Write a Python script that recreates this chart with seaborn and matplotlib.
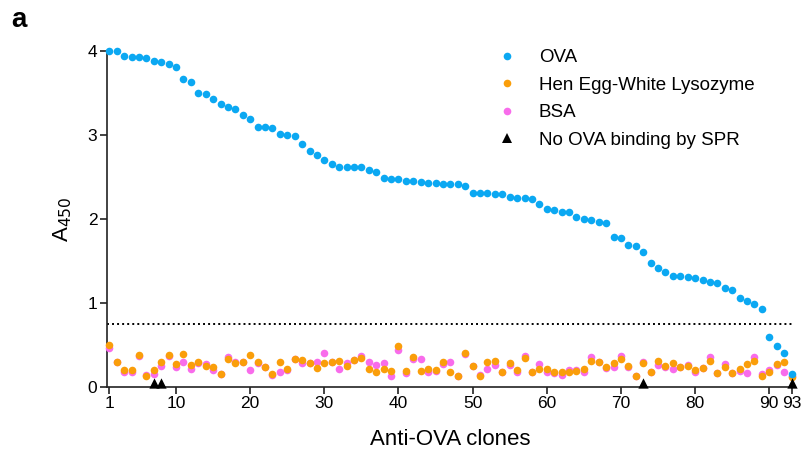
import numpy as np
import pandas as pd
import matplotlib
matplotlib.use("Agg")
import matplotlib.pyplot as plt
from matplotlib.lines import Line2D
import seaborn as sns

# ELISA absorbance (A450) for each anti-OVA clone against three antigens
clones = list(range(1, 94))

ova = [4.00, 4.00, 3.94, 3.93, 3.92, 3.91, 3.88, 3.86, 3.84, 3.80,
       3.66, 3.63, 3.50, 3.48, 3.42, 3.37, 3.33, 3.31, 3.23, 3.19,
       3.09, 3.09, 3.08, 3.01, 3.00, 2.98, 2.89, 2.81, 2.76, 2.70,
       2.65, 2.62, 2.62, 2.62, 2.61, 2.58, 2.55, 2.49, 2.47, 2.47,
       2.45, 2.45, 2.44, 2.43, 2.43, 2.41, 2.41, 2.41, 2.39, 2.31,
       2.31, 2.31, 2.29, 2.29, 2.26, 2.25, 2.25, 2.23, 2.18, 2.12,
       2.10, 2.08, 2.08, 2.02, 2.00, 1.99, 1.96, 1.95, 1.78, 1.77,
       1.69, 1.68, 1.60, 1.47, 1.41, 1.37, 1.32, 1.32, 1.31, 1.30,
       1.27, 1.25, 1.23, 1.18, 1.15, 1.06, 1.02, 0.98, 0.92, 0.59,
       0.48, 0.40, 0.15]

hewl = [0.50, 0.30, 0.20, 0.20, 0.38, 0.13, 0.20, 0.29, 0.38, 0.27,
        0.39, 0.26, 0.29, 0.25, 0.23, 0.15, 0.33, 0.28, 0.30, 0.38,
        0.29, 0.24, 0.15, 0.29, 0.21, 0.33, 0.32, 0.28, 0.22, 0.28,
        0.29, 0.31, 0.25, 0.32, 0.34, 0.21, 0.18, 0.21, 0.19, 0.48,
        0.19, 0.35, 0.19, 0.21, 0.20, 0.29, 0.17, 0.13, 0.40, 0.25,
        0.13, 0.29, 0.31, 0.17, 0.28, 0.20, 0.34, 0.18, 0.21, 0.21,
        0.17, 0.17, 0.17, 0.19, 0.21, 0.31, 0.30, 0.24, 0.28, 0.33,
        0.25, 0.13, 0.28, 0.17, 0.31, 0.25, 0.28, 0.23, 0.25, 0.20,
        0.22, 0.31, 0.16, 0.24, 0.16, 0.21, 0.27, 0.31, 0.13, 0.17,
        0.27, 0.29, 0.11]

bsa = [0.46, 0.29, 0.17, 0.18, 0.36, 0.14, 0.15, 0.25, 0.36, 0.24,
       0.29, 0.21, 0.28, 0.27, 0.20, 0.15, 0.35, 0.29, 0.29, 0.20,
       0.28, 0.24, 0.14, 0.17, 0.20, 0.33, 0.28, 0.28, 0.29, 0.40,
       0.29, 0.21, 0.28, 0.32, 0.36, 0.29, 0.26, 0.28, 0.13, 0.44,
       0.16, 0.33, 0.33, 0.18, 0.19, 0.27, 0.29, 0.13, 0.39, 0.25,
       0.14, 0.21, 0.26, 0.17, 0.26, 0.18, 0.36, 0.18, 0.27, 0.17,
       0.16, 0.14, 0.20, 0.20, 0.17, 0.35, 0.30, 0.22, 0.23, 0.37,
       0.23, 0.13, 0.29, 0.17, 0.26, 0.24, 0.21, 0.24, 0.26, 0.18,
       0.22, 0.35, 0.16, 0.27, 0.16, 0.19, 0.16, 0.35, 0.15, 0.20,
       0.26, 0.17, 0.13]

# Clones without OVA binding in surface plasmon resonance
no_spr = [7, 8, 73, 93]
no_spr_y = [0.045] * len(no_spr)

cutoff = 0.75
xticks = [1, 10, 20, 30, 40, 50, 60, 70, 80, 90, 93]

c_ova = "#0BA8F2"
c_hewl = "#FA9E0A"
c_bsa = "#F86CEB"

sns.set_theme(style="ticks")
plt.rcParams["font.family"] = ["Liberation Sans", "DejaVu Sans"]
plt.rcParams.update({
    "text.color": "black",
    "axes.labelcolor": "black",
    "xtick.color": "black",
    "ytick.color": "black",
})

fig = plt.figure(figsize=(8.05, 4.55), dpi=100)
ax = fig.add_axes([107 / 805, 1 - 386.7 / 455, 686 / 805, 336 / 455])

df = pd.DataFrame({"clone": clones, "OVA": ova, "HEWL": hewl, "BSA": bsa})

dot = dict(s=30, linewidth=0, clip_on=False, legend=False, ax=ax)
sns.scatterplot(data=df, x="clone", y="BSA", color=c_bsa, zorder=3, **dot)
sns.scatterplot(data=df, x="clone", y="HEWL", color=c_hewl, zorder=4, **dot)
sns.scatterplot(data=df, x="clone", y="OVA", color=c_ova, zorder=5, **dot)
sns.scatterplot(x=no_spr, y=no_spr_y, color="black", marker="^", s=55,
                linewidth=0, zorder=6, clip_on=False, legend=False, ax=ax)

ax.axhline(cutoff, color="black", linestyle=(0, (1, 1.6)), linewidth=1.4, zorder=2)

ax.set_xlim(0.69, 93.2)
ax.set_ylim(0, 4)
ax.set_xticks(xticks)
ax.set_xticklabels([str(t) for t in xticks])
ax.set_yticks([0, 1, 2, 3, 4])
ax.tick_params(axis="both", direction="out", length=5, width=1.2,
               color="#222222", labelsize=12.5, pad=2)
for side in ("left", "bottom"):
    ax.spines[side].set_linewidth(1.2)
    ax.spines[side].set_color("#222222")
sns.despine(ax=ax)

ax.set_xlabel("Anti-OVA clones", fontsize=16, labelpad=13)
ax.set_ylabel("A$_{450}$", fontsize=16, labelpad=10)

handles = [
    Line2D([], [], linestyle="none", marker="o", markersize=5.5,
           markerfacecolor=c_ova, markeredgewidth=0),
    Line2D([], [], linestyle="none", marker="o", markersize=5.5,
           markerfacecolor=c_hewl, markeredgewidth=0),
    Line2D([], [], linestyle="none", marker="o", markersize=5.5,
           markerfacecolor=c_bsa, markeredgewidth=0),
    Line2D([], [], linestyle="none", marker="^", markersize=6.5,
           markerfacecolor="black", markeredgewidth=0),
]
labels = ["OVA", "Hen Egg-White Lysozyme", "BSA", "No OVA binding by SPR"]
ax.legend(handles, labels, loc="upper left", bbox_to_anchor=(0.545, 1.055),
          frameon=False, fontsize=13.5, handletextpad=1.2, labelspacing=0.55,
          handlelength=1.0)

fig.text(11 / 805, 1 - 27 / 455, "a", fontsize=20, fontweight="bold")

fig.savefig("out.png", dpi=100)
